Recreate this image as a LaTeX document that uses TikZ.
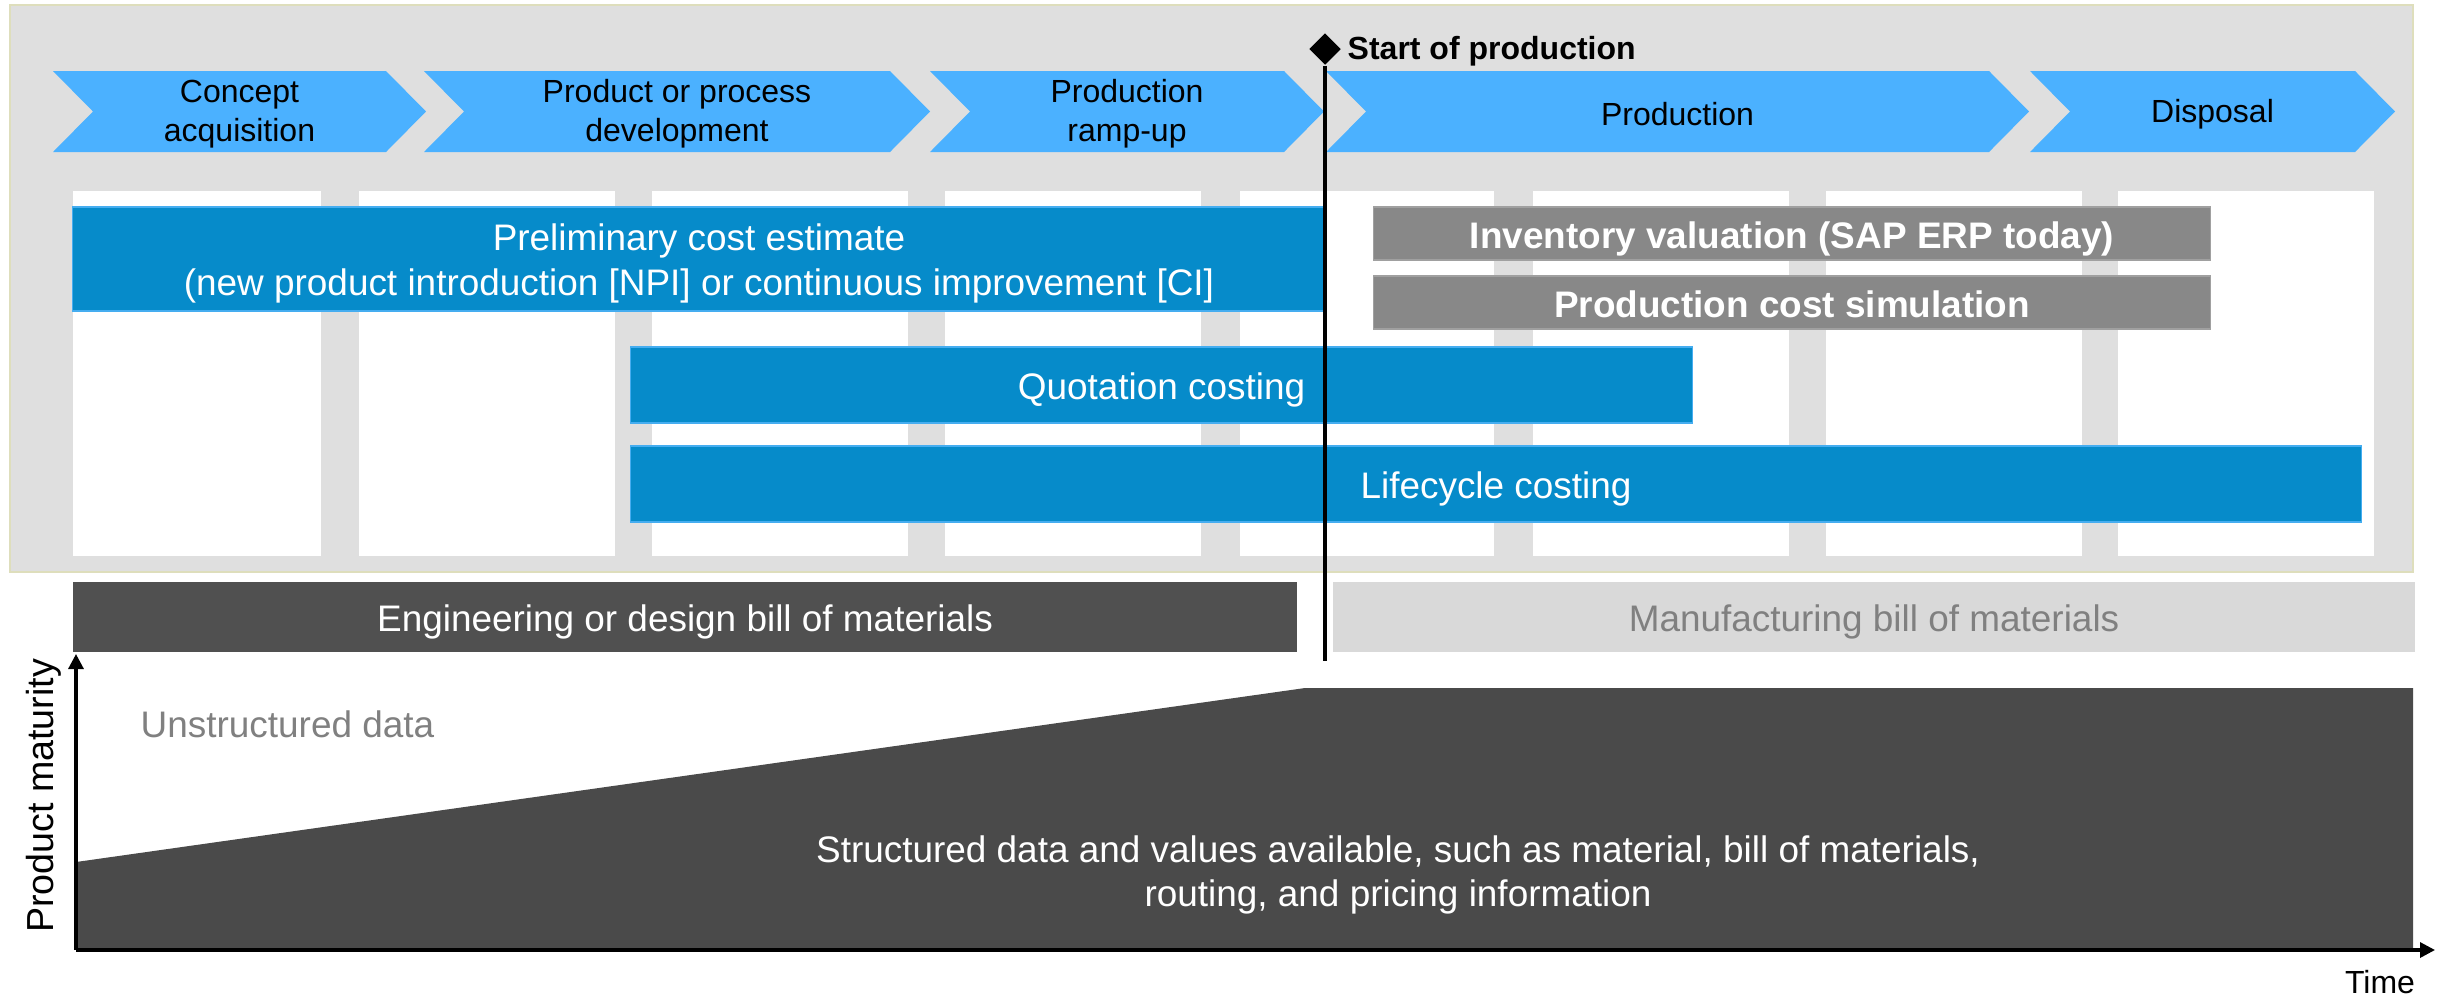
\documentclass[tikz,border=0pt]{standalone}
\usepackage{fontspec}
\setmainfont{Liberation Sans}
\usetikzlibrary{shapes.geometric,arrows.meta}

\definecolor{panelgray}{HTML}{DFDFDF}
\definecolor{panelrim}{HTML}{DEDEBC}
\definecolor{chevblue}{HTML}{4BB1FF}
\definecolor{barblue}{HTML}{068BCA}
\definecolor{barrim}{HTML}{45ADF0}
\definecolor{valgray}{HTML}{888888}
\definecolor{ebomgray}{HTML}{505050}
\definecolor{mbomgray}{HTML}{D9D9D9}
\definecolor{softtext}{HTML}{808080}
\definecolor{datagray}{HTML}{4A4A4A}

\tikzset{
  phasetext/.style={align=center, inner sep=0pt, yshift=-0.5pt, font=\fontsize{9.1}{11.1}\selectfont},
  barline/.style={text height=8.3pt, text depth=0pt, inner sep=0pt},
  costbar/.style={barline, fill=barblue, draw=barrim, line width=0.4pt, text=white,
    font=\fontsize{10.5}{12.8}\selectfont},
  valbar/.style={barline, fill=valgray, draw=valgray!80, line width=0.4pt, text=white,
    minimum width=8.36cm, minimum height=0.53cm, font=\fontsize{10.5}{12.8}\selectfont\bfseries},
  bombar/.style={barline, minimum height=0.70cm, font=\fontsize{10.5}{12.8}\selectfont},
  axisline/.style={line width=0.9pt, -{Triangle[length=0.15cm, width=0.15cm]}}
}

\begin{document}
\begin{tikzpicture}[x=0.01cm, y=-0.01cm]
\useasboundingbox (0,0) rectangle (2446,996);

% lifecycle panel and its columns
\filldraw[fill=panelgray, draw=panelrim, line width=0.8pt] (10,5) rectangle (2413,572);
\foreach \a/\b in {73/321, 359/615, 652/908, 945/1201, 1240/1494, 1533/1789, 1826/2082, 2118/2374}
  \fill[white] (\a,191) rectangle (\b,556);

% phases
\foreach \l/\t/\n/\txt in {53/426/concept/{Concept\\acquisition},
    424/930/develop/{Product or process\\development},
    930/1324/rampup/{Production\\ramp-up},
    1326/2029/produce/{Production},
    2030/2395/dispose/{Disposal}}{
  \fill[chevblue] (\l,71) -- (\t-40,71) -- (\t,111.5) -- (\t-40,152) -- (\l,152) -- (\l+40,111.5) -- cycle;
  \node[phasetext] (\n) at ({(\l+\t)/2},112) {\txt};
}

% costing bars
\node[costbar, minimum width=12.52cm, minimum height=1.04cm] (prelim) at (699,259) {};
\node[text=white, align=center, inner sep=0pt, yshift=-1.3pt, font=\fontsize{10.5}{12.8}\selectfont] (prelimtext) at (prelim)
  {Preliminary cost estimate\\(new product introduction [NPI] or continuous improvement [CI]};
\node[costbar, minimum width=10.61cm, minimum height=0.76cm] (quote) at (1161.5,385) {Quotation costing};
\node[costbar, minimum width=17.30cm, minimum height=0.76cm] (lifecycle) at (1496,484) {Lifecycle costing};
\node[valbar] (invval) at (1792,233.5) {Inventory valuation (SAP ERP today)};
\node[valbar] (prodsim) at (1792,302.5) {Production cost simulation};

% bills of materials
\node[bombar, fill=ebomgray, text=white, minimum width=12.24cm] (ebom) at (685,617)
  {Engineering or design bill of materials};
\node[bombar, fill=mbomgray, text=softtext, minimum width=10.82cm] (mbom) at (1874,617)
  {Manufacturing bill of materials};

% maturity chart
\coordinate (origin) at (76,950);
\coordinate (ytop) at (76,654);
\coordinate (xend) at (2435,950);
\fill[datagray] (76,862) -- (1305,688) -- (2413,688) -- (2413,950) -- (76,950) -- cycle;
\node[anchor=west, text=softtext, inner sep=0pt, font=\fontsize{10.5}{12.8}\selectfont] (unstruct) at (140,724)
  {Unstructured data};
\node[align=center, text=white, inner sep=0pt, yshift=-0.8pt, font=\fontsize{10.5}{12.5}\selectfont] (struct) at (1398,872)
  {Structured data and values available, such as material, bill of materials,\\routing, and pricing information};
\draw[axisline] (origin) -- (ytop);
\draw[axisline] (origin) -- (xend);
\node[rotate=90, inner sep=0pt, font=\fontsize{10.7}{12.8}\selectfont] (maturity) at (44,796) {Product maturity};
\node[inner sep=0pt, font=\fontsize{9.1}{11}\selectfont] (time) at (2380,982) {Time};

% start of production
\node[diamond, fill=black, inner sep=0pt, minimum size=0.32cm] (sop) at (1325,49) {};
\node[anchor=west, inner sep=0pt, font=\fontsize{9.1}{11}\selectfont\bfseries] (soplabel) at (1347,51) {Start of production};
\coordinate (sopend) at (1325,661);
\draw[line width=0.9pt] (sop.south) -- (sopend);

\end{tikzpicture}
\end{document}
